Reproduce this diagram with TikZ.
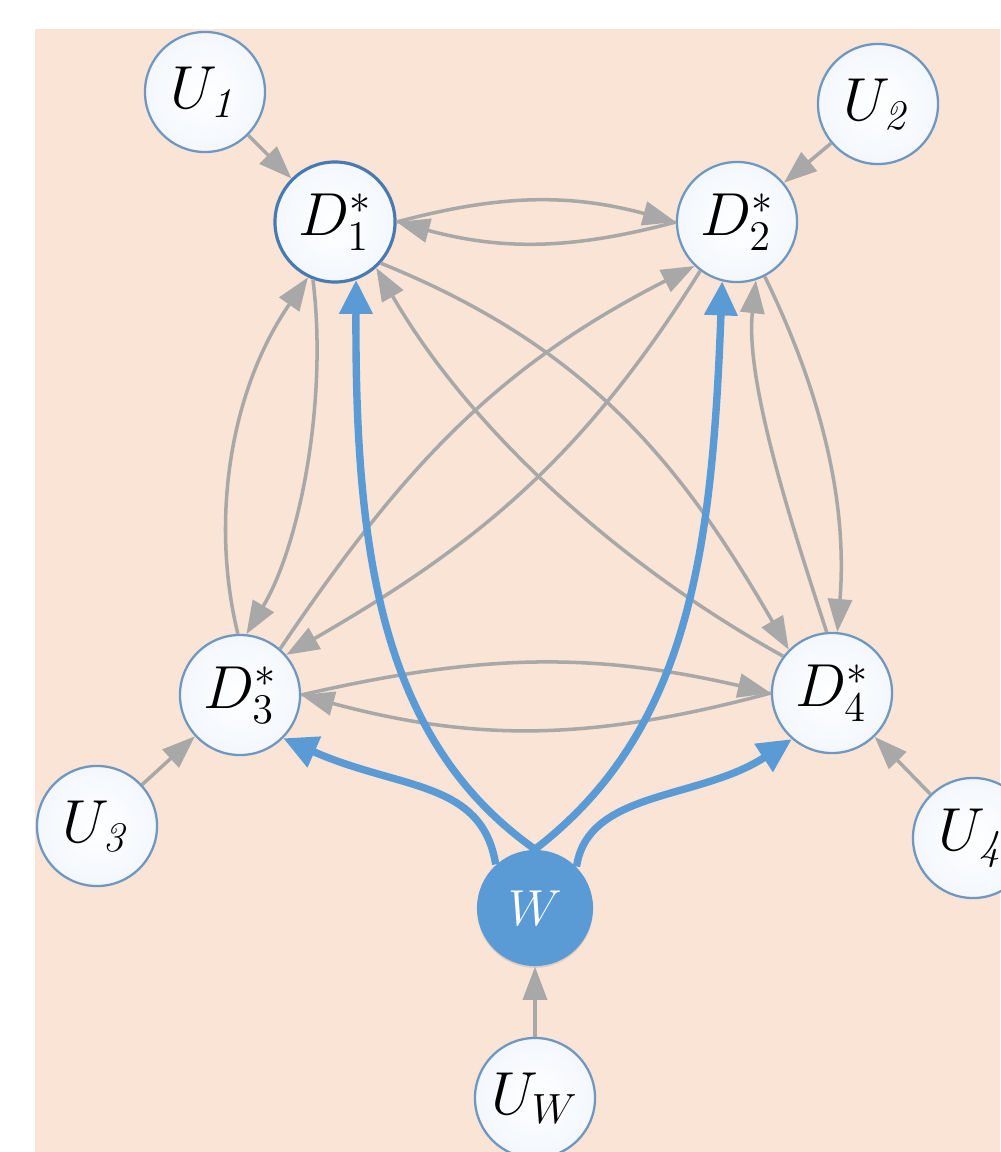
\documentclass[tikz,border=0pt]{standalone}
\usetikzlibrary{arrows.meta,shadows}
\definecolor{paper}{RGB}{250,228,214}
\definecolor{rim}{RGB}{110,152,194}
\definecolor{rimdark}{RGB}{72,122,178}
\definecolor{edgegray}{RGB}{168,168,168}
\definecolor{wblue}{RGB}{91,155,213}
\definecolor{glow}{RGB}{243,247,252}
\begin{document}
\begin{tikzpicture}[x=0.01cm,y=0.01cm,
  var/.style={circle, minimum size=1.2cm, inner sep=0pt, draw=rim, line width=0.65pt,
    inner color=white, outer color=glow, font=\fontsize{18}{21}\selectfont},
  chosen/.style={draw=rimdark, line width=0.9pt},
  treat/.style={circle, minimum size=1.16cm, inner sep=0pt, fill=wblue, text=white,
    font=\fontsize{15}{18}\selectfont,
    drop shadow={shadow xshift=0pt, shadow yshift=-0.5pt, opacity=0.25}},
  gedge/.style={draw=edgegray, line width=1pt, -{Triangle[length=0.33cm,width=0.24cm]}},
  bedge/.style={draw=wblue, line width=2.1pt, -{Triangle[length=0.34cm,width=0.32cm]}}]

% canvas and backdrop
\useasboundingbox (0,0) rectangle (1000,-1152);
\fill[white] (0,0) rectangle (1000,-1152);
\fill[paper] (35,-29) rectangle (1000,-1152);

% variables
\node[var] (U1) at (205,-92) {$U_{\mathit{1}}$};
\node[var] (U2) at (878,-104) {$U_{\mathit{2}}$};
\node[var] (U3) at (97,-826) {$U_{\mathit{3}}$};
\node[var] (U4) at (973,-838) {$U_{\mathit{4}}$};
\node[var] (UW) at (535,-1098) {$U_W$};
\node[var,chosen] (D1) at (335,-222) {$D_1^*$};
\node[var] (D2) at (737,-222) {$D_2^*$};
\node[var] (D3) at (240,-695) {$D_3^*$};
\node[var] (D4) at (832,-693) {$D_4^*$};
\node[treat] (W) at (535,-908) {$W$};

% exogenous inputs
\draw[gedge] (U1) -- (D1);
\draw[gedge] (U2) -- (D2);
\draw[gedge] (U3) -- (D3);
\draw[gedge] (U4) -- (D4);
\draw[gedge] (UW) -- (W);

% top and bottom pairs
\draw[gedge] (D1.east) to[out=15,in=165] (D2.west);
\draw[gedge] (D2.west) to[out=195,in=-15] (D1.east);
\draw[gedge] (D3.east) to[out=13,in=167] (D4.west);
\draw[gedge] (D4.west) to[out=195,in=-15] (D3.east);

% left and right pairs
\draw[gedge] (D3.92) .. controls (210,-520) and (230,-390) .. (D1.244);
\draw[gedge] (D1.249) .. controls (328,-400) and (300,-545) .. (D3.84);
\draw[gedge] (D2.297) .. controls (820,-390) and (848,-500) .. (D4.85);
\draw[gedge] (D4.95) .. controls (790,-520) and (745,-380) .. (D2.288);

% diagonals
\draw[gedge] (D1.318) to[out=-22,in=120] (D4.135);
\draw[gedge] (D4.143) to[out=151,in=300,looseness=0.85] (D1.312);
\draw[gedge] (D3.49) to[out=56,in=207] (D2.226);
\draw[gedge] (D2.233) to[out=238,in=30] (D3.41);

% treatment effects
\draw[bedge] (W.north) .. controls (380,-740) and (355,-550) .. (D1.290);
\draw[bedge] (W.north) .. controls (690,-730) and (712,-550) .. (D2.256);
\draw[bedge] (W.132) .. controls (482,-780) and (400,-790) .. (D3.315);
\draw[bedge] (W.45) .. controls (588,-790) and (700,-800) .. (D4.229);
\end{tikzpicture}
\end{document}
